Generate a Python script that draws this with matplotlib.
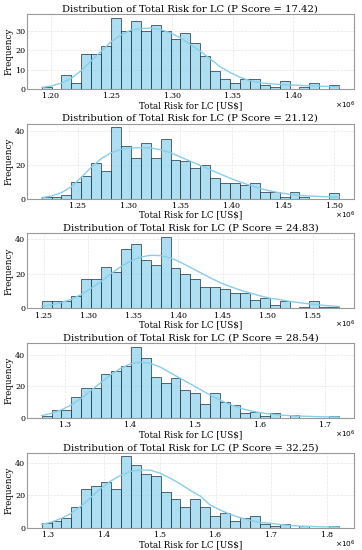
import numpy as np
import matplotlib
matplotlib.use("Agg")
import matplotlib.pyplot as plt
from matplotlib.ticker import ScalarFormatter

# P scores shown in the titles
p_scores = ["17.42", "21.12", "24.83", "28.54", "32.25"]

# histogram range per panel (millions of US$), 30 bins each
bin_start = [1.1924, 1.2150, 1.2478, 1.2637, 1.2886]
bin_end = [1.4377, 1.5046, 1.5795, 1.7210, 1.8214]

counts_1 = [1, 0, 7, 3, 18, 18, 22, 37, 30, 35, 30, 33, 30, 26, 29,
            24, 17, 9, 5, 3, 5, 5, 2, 1, 4, 0, 1, 3, 0, 2]
counts_2 = [1, 1, 2, 10, 13, 21, 16, 42, 31, 24, 33, 24, 35, 23, 22,
            18, 20, 12, 9, 9, 8, 9, 4, 4, 1, 4, 1, 0, 0, 3]
counts_3 = [4, 4, 4, 7, 17, 17, 24, 21, 34, 37, 28, 25, 41, 23, 20,
            17, 12, 12, 11, 9, 9, 5, 6, 2, 4, 0, 1, 4, 1, 1]
counts_4 = [1, 5, 5, 13, 19, 19, 28, 30, 33, 45, 38, 26, 22, 25, 18,
            16, 9, 16, 10, 8, 3, 4, 1, 3, 0, 2, 0, 0, 0, 1]
counts_5 = [3, 4, 6, 13, 24, 26, 28, 24, 44, 39, 33, 32, 22, 18, 13,
            18, 13, 7, 9, 4, 6, 7, 2, 1, 2, 0, 1, 0, 0, 1]

# kde curve read at the 31 bin edges
kde_1 = [0.7, 1.5, 3, 5.5, 9.5, 14.5, 19.5, 24.5, 28, 30.5, 31.3, 31.5, 30.8, 29, 26.5, 23,
         19.5, 15.5, 11.5, 8.5, 6, 4.2, 3.2, 2.6, 2.3, 2.0, 1.8, 1.6, 1.4, 1.2, 1.0]
kde_2 = [0.5, 1.5, 3.5, 7, 12.5, 18.5, 23.5, 27, 29, 29.8, 30, 29.8, 28.8, 27, 24.5, 22,
         19.5, 17, 14.5, 12, 9.8, 7.8, 6, 4.5, 3.4, 2.5, 1.9, 1.5, 1.2, 1.0, 0.9]
kde_3 = [1.2, 2, 3.3, 5.2, 8, 11.5, 15.5, 20, 24, 27.3, 29.5, 30.5, 30.3, 29, 26.5, 23.5,
         20.5, 17.5, 14.8, 12.5, 10.5, 8.8, 7.2, 5.8, 5, 4, 3.2, 2.5, 1.9, 1.4, 1.0]
kde_4 = [1.5, 3, 5.2, 8.3, 12.5, 17.5, 22.5, 27.5, 31.5, 34.3, 35.3, 34.5, 32, 28.5, 25, 21.5,
         18, 14.5, 11.3, 8.5, 6.3, 4.6, 3.4, 2.5, 1.9, 1.5, 1.2, 1.0, 0.8, 0.7, 0.6]
kde_5 = [2, 3.5, 5.8, 9, 13.5, 19, 24.5, 29, 32.5, 34.8, 35.7, 35.5, 33.5, 30.5, 27, 23,
         19.5, 14, 11, 8.3, 6.2, 4.6, 3.3, 2.8, 2, 1.4, 1.0, 0.8, 0.6, 0.5, 0.4]

all_counts = [counts_1, counts_2, counts_3, counts_4, counts_5]
all_kde = [kde_1, kde_2, kde_3, kde_4, kde_5]

plt.rcParams['font.family'] = ['DejaVu Serif']

fig, axes = plt.subplots(5, 1, figsize=(3.62, 5.5), dpi=100)
fig.subplots_adjust(left=0.074, right=0.978, top=0.9745, bottom=0.0405, hspace=0.467)

for i, ax in enumerate(axes):
    edges = np.linspace(bin_start[i], bin_end[i], 31) * 1e6
    widths = np.diff(edges)
    ax.bar(edges[:-1], all_counts[i], width=widths, align='edge',
           color=(0.53, 0.81, 0.92, 0.68), edgecolor=(0.1, 0.2, 0.25, 0.85),
           linewidth=0.6, zorder=2)
    ax.plot(edges, all_kde[i], color='skyblue', linewidth=1.0, zorder=3)

    ax.set_title(f"Distribution of Total Risk for LC (P Score = {p_scores[i]})",
                 fontsize=7.2, pad=2)
    ax.set_xlabel(r"Total Risk for LC [US\$]", fontsize=6.3, labelpad=0.5)
    ax.set_ylabel("Frequency", fontsize=6.3, labelpad=1)

    fmt = ScalarFormatter(useMathText=True)
    fmt.set_powerlimits((0, 0))
    ax.xaxis.set_major_formatter(fmt)
    ax.xaxis.get_offset_text().set_visible(False)
    # offset label sits on the xlabel row, right-aligned
    ax.text(1.005, -0.145, r"$\times10^{6}$", transform=ax.transAxes,
            ha='right', va='top', fontsize=5.3)

    ax.tick_params(labelsize=5.8, length=0, pad=1)
    ax.grid(True, color='#e6e6e6', linestyle='--', linewidth=0.5, zorder=0)
    ax.set_axisbelow(True)
    for sp in ax.spines.values():
        sp.set_color('#999999')
        sp.set_linewidth(0.8)

fig.savefig("out.png", dpi=100)
